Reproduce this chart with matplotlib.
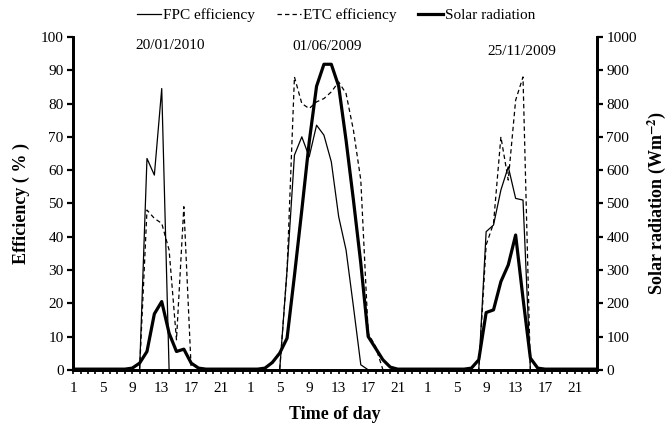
import matplotlib
matplotlib.use("Agg")
import matplotlib.pyplot as plt
from matplotlib.lines import Line2D

plt.rcParams["font.family"] = ["Liberation Serif", "DejaVu Serif"]
plt.rcParams["mathtext.fontset"] = "stix"

# hourly readings over three days, 72 points
HOURS = list(range(1, 25)) * 3
FPC = [0] * 10 + [63.5, 58.5, 84.5, 0] + [0] * 15 + \
    [30, 64.5, 70, 64, 73.5, 70.5, 62.5, 46, 36, 19, 1.5] + [0] * 16 + \
    [41.5, 43.5, 54, 61, 51.5, 51, 0] + [0] * 9
ETC = [0] * 10 + [48, 45.5, 44, 36, 9, 49, 0] + [0] * 12 + \
    [30, 88, 80, 78.5, 80.5, 81.5, 83.5, 86.5, 83, 72, 57, 11, 7, 0] + [0] * 13 + \
    [37.5, 44, 70, 57, 81, 88, 0] + [0] * 9
SOLAR = [2] * 8 + [5, 20, 55, 168, 205, 110, 55, 62, 20, 5] + [2] * 8 + \
    [5, 22, 50, 95, 283, 480, 684, 852, 918, 918, 852, 690, 510, 320, 100, 65, 30, 8] + [2] * 10 + \
    [5, 30, 172, 180, 265, 315, 405, 215, 35, 5] + [2] * 8
DATES = ["20/01/2010", "01/06/2009", "25/11/2009"]
DATE_POS = [13.1, 34.4, 60.9]
DATE_Y = [97.5, 97.2, 95.5]

x = list(range(len(HOURS)))
labels = [str(h) if i % 4 == 0 else "" for i, h in enumerate(HOURS)]

fig = plt.figure(figsize=(6.72, 4.30), dpi=100)
ax = fig.add_axes([0.109, 0.140, 0.779, 0.774])
ax2 = ax.twinx()

ax.plot(x, FPC, color="black", linewidth=0.9, label="FPC efficiency")
ax.plot(x, ETC, color="black", linewidth=0.9, linestyle=(0, (3.5, 2.5)), label="ETC efficiency")
ax2.plot(x, SOLAR, color="black", linewidth=2.3, label="Solar radiation")

ax.set_xlim(0, len(x) - 1)
ax.set_ylim(0, 100)
ax2.set_ylim(0, 1000)
ax.set_yticks(range(0, 101, 10))
ax2.set_yticks(range(0, 1001, 100))
ax.set_xticks(x)
ax.set_xticklabels(labels)

for a in (ax, ax2):
    for side in ("left", "right", "bottom"):
        a.spines[side].set_linewidth(2.0)
    a.spines["top"].set_visible(False)
    a.tick_params(labelsize=11, width=1.6, length=4, direction="out", pad=3)
ax.tick_params(axis="x", length=3, width=1.2, pad=6)

ax.set_xlabel("Time of day", fontsize=13, fontweight="bold", labelpad=8)
ax.set_ylabel("Efficiency ( % )", fontsize=13, fontweight="bold", labelpad=8)
ax2.set_ylabel(r"Solar radiation (Wm$^{\mathbf{-2}}$)", fontsize=13, fontweight="bold", labelpad=6)

for label, px, py in zip(DATES, DATE_POS, DATE_Y):
    ax.text(px, py, label, ha="center", va="center", fontsize=11)

handles = [
    Line2D([], [], color="black", linewidth=0.9),
    Line2D([], [], color="black", linewidth=0.9, linestyle=(0, (3.5, 2.5))),
    Line2D([], [], color="black", linewidth=2.3),
]
fig.legend(handles, ["FPC efficiency", "ETC efficiency", "Solar radiation"],
           loc="center", bbox_to_anchor=(0.5, 0.965), ncol=3, frameon=False,
           fontsize=11, handlelength=1.6, handletextpad=0.15, columnspacing=1.4)

fig.savefig("out.png", dpi=100)
